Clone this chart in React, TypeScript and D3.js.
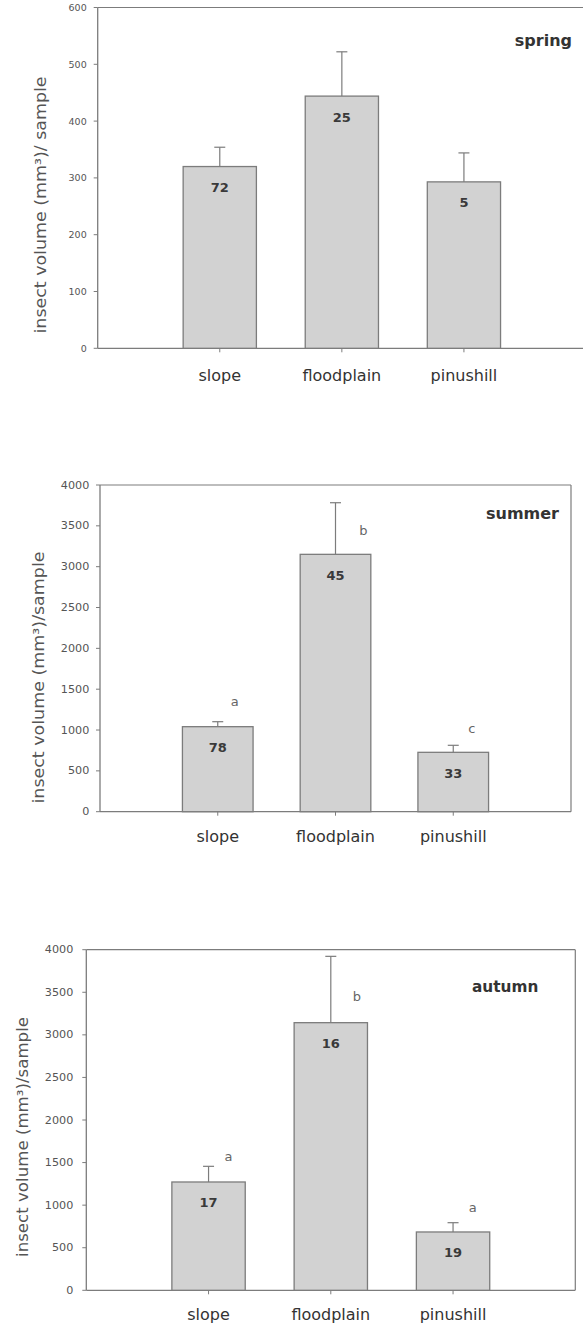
import React from "react";
import * as d3 from "d3";

// ---- data ----
const categories = ["slope", "floodplain", "pinushill"];

const springMean = [320, 444, 293];
const springSE = [34, 78, 51];
const springN = ["72", "25", "5"];
const springLetters = ["", "", ""];
const springTicks = [0, 100, 200, 300, 400, 500, 600];

const summerMean = [1041, 3151, 727];
const summerSE = [61, 632, 86];
const summerN = ["78", "45", "33"];
const summerLetters = ["a", "b", "c"];
const summerTicks = [0, 500, 1000, 1500, 2000, 2500, 3000, 3500, 4000];

const autumnMean = [1272, 3143, 685];
const autumnSE = [184, 779, 109];
const autumnN = ["17", "16", "19"];
const autumnLetters = ["a", "b", "a"];
const autumnTicks = [0, 500, 1000, 1500, 2000, 2500, 3000, 3500, 4000];

// ---- layout (pixels / label placement) ----
const panels = [
  {
    season: "spring", mean: springMean, se: springSE, n: springN, letters: springLetters, ticks: springTicks,
    yMax: 600, left: 97.7, right: 586, top: 7.5, bottom: 348.3,
    tickFont: 9.5, tickGap: 11,
    title: "insect volume (mm³)/ sample", titleX: 40, titleY: 205, titleLen: 257,
    seasonX: 572, seasonY: 40, seasonSize: 16,
    letterY: [0, 0, 0], letterDx: [0, 0, 0], xLabelDy: 27,
  },
  {
    season: "summer", mean: summerMean, se: summerSE, n: summerN, letters: summerLetters, ticks: summerTicks,
    yMax: 4000, left: 100, right: 571, top: 485, bottom: 811.7,
    tickFont: 11.2, tickGap: 10.7,
    title: "insect volume (mm³)/sample", titleX: 38.3, titleY: 677.5, titleLen: 252,
    seasonX: 559, seasonY: 513.3, seasonSize: 16,
    letterY: [1347, 3449, 1021], letterDx: [17, 28, 18.5], xLabelDy: 25,
  },
  {
    season: "autumn", mean: autumnMean, se: autumnSE, n: autumnN, letters: autumnLetters, ticks: autumnTicks,
    yMax: 4000, left: 86.3, right: 575.3, top: 949.7, bottom: 1290.3,
    tickFont: 11.2, tickGap: 13,
    title: "insect volume (mm³)/sample", titleX: 22, titleY: 1137, titleLen: 240,
    seasonX: 538.3, seasonY: 987, seasonSize: 15.3,
    letterY: [1574, 3445, 967], letterDx: [20, 26, 19.7], xLabelDy: 24,
  },
];

const LINE = "#7c7c7c";
const FONT = "'DejaVu Sans', Verdana, sans-serif";

function Panel({ p }: { p: (typeof panels)[number] }) {
  const x = d3.scaleLinear().domain([0, categories.length + 1]).range([p.left, p.right]);
  const y = d3.scaleLinear().domain([0, p.yMax]).range([p.bottom, p.top]);
  const bw = x(0.6) - x(0);
  const cap = 5.5;
  return (
    <g>
      {/* frame */}
      <line x1={p.left} x2={p.right} y1={p.top} y2={p.top} stroke={LINE} strokeWidth={1.2} />
      <line x1={p.right} x2={p.right} y1={p.top} y2={p.bottom} stroke={LINE} strokeWidth={1.2} />
      <line x1={p.left} x2={p.right} y1={p.bottom} y2={p.bottom} stroke={LINE} strokeWidth={1.3} />
      <line x1={p.left} x2={p.left} y1={p.top} y2={p.bottom} stroke={LINE} strokeWidth={1.3} />
      {/* y ticks */}
      {p.ticks.map((t) => (
        <g key={t}>
          <line x1={p.left - 4} x2={p.left} y1={y(t)} y2={y(t)} stroke={LINE} strokeWidth={1} />
          <text x={p.left - p.tickGap} y={y(t)} textAnchor="end" dominantBaseline="central"
            fontFamily={FONT} fontSize={p.tickFont} fill="#555">{t}</text>
        </g>
      ))}
      {/* y title */}
      <text transform={`translate(${p.titleX},${p.titleY}) rotate(-90)`} textAnchor="middle"
        dominantBaseline="central" fontFamily={FONT} fontSize={16} fill="#555"
        textLength={p.titleLen} lengthAdjust="spacingAndGlyphs">{p.title}</text>
      {/* bars */}
      {categories.map((c, i) => {
        const cx = x(i + 1);
        const top = y(p.mean[i]);
        const et = y(p.mean[i] + p.se[i]);
        return (
          <g key={c}>
            <line x1={cx} x2={cx} y1={top} y2={et} stroke={LINE} strokeWidth={1.2} />
            <line x1={cx - cap} x2={cx + cap} y1={et} y2={et} stroke={LINE} strokeWidth={1.2} />
            <rect x={cx - bw / 2} y={top} width={bw} height={p.bottom - top}
              fill="#d2d2d2" stroke={LINE} strokeWidth={1.3} />
            <text x={cx} y={top + 21} textAnchor="middle" dominantBaseline="central"
              fontFamily={FONT} fontSize={13} fontWeight="bold" fill="#3a3a3a">{p.n[i]}</text>
            {p.letters[i] && (
              <text x={cx + p.letterDx[i]} y={y(p.letterY[i])} textAnchor="middle" dominantBaseline="central"
                fontFamily={FONT} fontSize={13} fill="#666">{p.letters[i]}</text>
            )}
            <line x1={cx} x2={cx} y1={p.bottom} y2={p.bottom + 4} stroke={LINE} strokeWidth={1} />
            <text x={cx} y={p.bottom + p.xLabelDy} textAnchor="middle" dominantBaseline="central"
              fontFamily={FONT} fontSize={16} fill="#333">{c}</text>
          </g>
        );
      })}
      {/* season label */}
      <text x={p.seasonX} y={p.seasonY} textAnchor="end" dominantBaseline="central"
        fontFamily={FONT} fontSize={p.seasonSize} fontWeight="bold" fill="#333">{p.season}</text>
    </g>
  );
}

export default function App() {
  return (
    <svg width={583} height={1327} style={{ position: "absolute", left: 0, top: 0, background: "#fff" }}>
      <rect width={583} height={1327} fill="#fff" />
      {panels.map((p) => (
        <Panel key={p.season} p={p} />
      ))}
    </svg>
  );
}
